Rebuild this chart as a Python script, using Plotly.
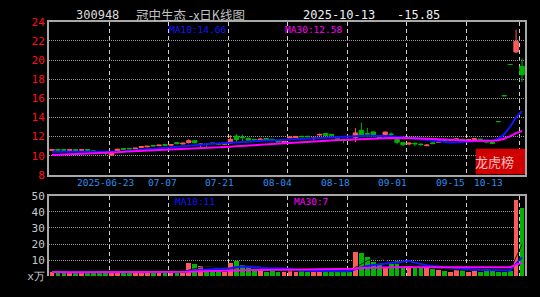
import plotly.graph_objects as go
import pandas as pd

W, H = 540, 297

# ---------------- data ----------------
opens = [10.55, 10.64, 10.62, 10.55, 10.62, 10.56, 10.62, 10.50, 10.42, 10.36,
         10.05, 10.45, 10.75, 10.76, 10.72, 10.86, 10.92, 11.06, 11.04, 11.14,
         11.10, 11.36, 11.22, 11.38, 11.56, 11.18, 11.20, 11.32, 11.24, 11.20,
         11.32, 12.05, 11.92, 11.82, 11.70, 11.62, 11.80, 11.72, 11.50, 11.40,
         11.86, 11.90, 12.02, 12.02, 11.78, 12.16, 12.32, 12.22, 11.76, 11.70,
         11.70, 11.90, 12.65, 12.30, 12.48, 11.88, 12.22, 12.26, 11.70, 11.36,
         11.22, 11.30, 11.20, 11.04, 11.34, 11.40, 11.64, 11.62, 11.68, 11.72,
         11.62, 11.70, 11.74, 11.60, 11.40, 13.56, 16.27, 19.53, 20.84, 19.34]
highs = [10.66, 10.72, 10.65, 10.64, 10.66, 10.65, 10.68, 10.52, 10.45, 10.38,
         10.38, 10.72, 10.80, 10.80, 10.82, 10.98, 11.02, 11.10, 11.14, 11.18,
         11.20, 11.40, 11.36, 11.72, 11.60, 11.28, 11.28, 11.36, 11.30, 11.30,
         12.15, 12.25, 12.20, 11.90, 11.74, 11.86, 11.84, 11.76, 11.54, 11.52,
         11.98, 12.08, 12.06, 12.06, 12.00, 12.30, 12.36, 12.26, 11.80, 11.74,
         11.74, 12.88, 13.45, 12.90, 12.52, 12.00, 12.56, 12.42, 11.74, 11.40,
         11.40, 11.34, 11.30, 11.20, 11.38, 11.68, 11.68, 11.72, 11.78, 11.76,
         11.72, 11.80, 11.78, 11.64, 11.42, 13.56, 16.27, 19.53, 23.17, 20.15]
lows = [10.52, 10.52, 10.55, 10.50, 10.45, 10.53, 10.46, 10.38, 10.30, 10.02,
        9.95, 10.42, 10.62, 10.66, 10.68, 10.84, 10.88, 10.98, 11.00, 11.06,
        11.06, 11.20, 11.18, 11.26, 11.30, 10.85, 10.90, 11.24, 11.10, 11.16,
        11.28, 11.42, 11.50, 11.58, 11.62, 11.55, 11.58, 11.56, 11.40, 11.36,
        11.82, 11.86, 11.94, 11.94, 11.62, 12.08, 12.06, 12.10, 11.64, 11.30,
        11.62, 11.40, 12.00, 11.90, 12.08, 11.78, 11.86, 11.90, 11.18, 11.02,
        11.08, 10.98, 11.02, 11.00, 11.22, 11.36, 11.54, 11.58, 11.64, 11.62,
        11.58, 11.66, 11.62, 11.30, 11.20, 13.56, 16.27, 19.53, 20.74, 17.70]
closes = [10.62, 10.58, 10.58, 10.62, 10.56, 10.62, 10.58, 10.42, 10.38, 10.30,
          10.34, 10.68, 10.68, 10.72, 10.78, 10.94, 10.98, 11.02, 11.10, 11.10,
          11.16, 11.26, 11.30, 11.56, 11.34, 11.20, 11.16, 11.28, 11.20, 11.24,
          11.70, 11.68, 11.88, 11.62, 11.66, 11.72, 11.62, 11.62, 11.44, 11.48,
          11.94, 11.98, 11.98, 11.98, 11.84, 12.22, 12.10, 12.14, 11.68, 11.62,
          11.66, 12.38, 12.15, 12.26, 12.12, 11.82, 12.46, 12.22, 11.40, 11.14,
          11.30, 11.24, 11.16, 11.10, 11.26, 11.64, 11.58, 11.68, 11.74, 11.66,
          11.68, 11.76, 11.66, 11.42, 11.30, 13.56, 16.27, 19.53, 21.94, 18.46]
volumes = [2.6, 2.2, 2.2, 2.6, 2.2, 2.4, 2.2, 2.0, 2.2, 2.4,
           2.6, 2.4, 2.2, 3.6, 2.2, 2.4, 3.0, 2.2, 2.6, 2.2,
           2.8, 2.4, 3.0, 8.5, 7.5, 6.3, 4.5, 3.5, 3.1, 2.6,
           8.1, 9.5, 6.9, 5.5, 3.5, 3.5, 3.0, 3.5, 2.9, 2.9,
           4.0, 2.9, 3.5, 2.9, 2.9, 3.5, 2.9, 2.9, 2.9, 3.5,
           2.9, 15.0, 14.6, 12.3, 8.9, 7.1, 6.1, 7.5, 9.7, 6.1,
           6.5, 5.1, 5.3, 5.0, 4.4, 3.7, 3.3, 2.9, 4.0, 4.0,
           2.9, 4.6, 2.9, 4.6, 3.3, 2.9, 2.5, 3.3, 47.3, 42.6]
ma10 = [10.42, 10.42, 10.43, 10.43, 10.42, 10.42, 10.41, 10.40, 10.40, 10.38,
        10.38, 10.40, 10.44, 10.50, 10.56, 10.62, 10.68, 10.74, 10.80, 10.86,
        10.92, 10.97, 11.02, 11.07, 11.12, 11.16, 11.20, 11.24, 11.28, 11.32,
        11.38, 11.44, 11.48, 11.52, 11.55, 11.57, 11.58, 11.59, 11.60, 11.62,
        11.68, 11.72, 11.76, 11.79, 11.82, 11.86, 11.90, 11.96, 11.98, 11.98,
        12.00, 12.04, 12.07, 12.08, 12.08, 12.08, 12.06, 12.04, 11.98, 11.92,
        11.86, 11.78, 11.72, 11.66, 11.60, 11.50, 11.44, 11.38, 11.40, 11.45,
        11.50, 11.53, 11.55, 11.55, 11.55, 11.78, 12.22, 13.02, 14.02, 14.66]
ma30 = [10.08, 10.10, 10.12, 10.14, 10.16, 10.18, 10.20, 10.22, 10.25, 10.30,
        10.33, 10.36, 10.40, 10.42, 10.45, 10.48, 10.52, 10.56, 10.58, 10.62,
        10.65, 10.65, 10.65, 10.66, 10.70, 10.74, 10.78, 10.82, 10.86, 10.90,
        10.94, 10.98, 11.00, 11.04, 11.10, 11.14, 11.18, 11.22, 11.26, 11.30,
        11.33, 11.36, 11.40, 11.44, 11.48, 11.52, 11.58, 11.64, 11.66, 11.66,
        11.66, 11.70, 11.75, 11.78, 11.80, 11.82, 11.83, 11.84, 11.85, 11.85,
        11.84, 11.82, 11.80, 11.78, 11.74, 11.70, 11.66, 11.64, 11.62, 11.60,
        11.56, 11.55, 11.55, 11.55, 11.55, 11.62, 11.77, 12.03, 12.36, 12.58]

date_labels = ["2025-06-23", "07-07", "07-21", "08-04", "08-18", "09-01", "09-15", "10-13"]
grid_idx = [9.6, 19.6, 29.6, 39.6, 49.6, 59.6, 69.6, 78.6]
price_ticks = [8, 10, 12, 14, 16, 18, 20, 22, 24]
vol_ticks = [0, 10, 20, 30, 40, 50]
vol_tick_text = ["x万", "10", "20", "30", "40", "50"]

code = "300948"
title_name = "冠中生态 -x日K线图"
title_date = "2025-10-13"
title_chg = "-15.85"
price_ma_labels = ["MA10:14.66", "MA30:12.58"]
vol_ma_labels = ["MA10:11", "MA30:7"]
badge = "龙虎榜"

# ---------------- styling ----------------
RED = "#ff5a5a"
GREEN = "#00b400"
BLUE = "#1414ff"
MAGENTA = "#ff00ff"
FRAME = "#a8a8a8"
MONO = "DejaVu Sans Mono"

def px(x):
    return x / W

def py(y):
    return 1 - y / H

n = len(closes)
xs = list(range(n))
up = [c > o for o, c in zip(opens, closes)]

fig = go.Figure()

# candles, split by colour (flat one-price days are drawn green)
for flag, col in [(True, RED), (False, GREEN)]:
    idx = [i for i in xs if up[i] == flag]
    fig.add_trace(go.Candlestick(
        x=idx,
        open=[opens[i] for i in idx], high=[highs[i] for i in idx],
        low=[lows[i] for i in idx], close=[closes[i] for i in idx],
        increasing=dict(line=dict(color=col, width=1), fillcolor=col),
        decreasing=dict(line=dict(color=col, width=1), fillcolor=col),
        whiskerwidth=0, xaxis="x", yaxis="y", showlegend=False, hoverinfo="skip"))

fig.add_trace(go.Scatter(x=xs, y=ma10, mode="lines", line=dict(color=BLUE, width=2),
                         xaxis="x", yaxis="y", showlegend=False, hoverinfo="skip"))
fig.add_trace(go.Scatter(x=xs, y=ma30, mode="lines", line=dict(color=MAGENTA, width=2),
                         xaxis="x", yaxis="y", showlegend=False, hoverinfo="skip"))

# volume
vol = pd.Series(volumes)
fig.add_trace(go.Bar(x=xs, y=volumes, width=0.8,
                     marker=dict(color=[RED if u else GREEN for u in up], line=dict(width=0)),
                     xaxis="x2", yaxis="y2", showlegend=False, hoverinfo="skip"))
fig.add_trace(go.Scatter(x=xs, y=vol.rolling(5, min_periods=1).mean(), mode="lines",
                         line=dict(color="#1a1a1a", width=1),
                         xaxis="x2", yaxis="y2", showlegend=False, hoverinfo="skip"))
fig.add_trace(go.Scatter(x=xs, y=vol.rolling(10, min_periods=1).mean(), mode="lines",
                         line=dict(color=BLUE, width=2),
                         xaxis="x2", yaxis="y2", showlegend=False, hoverinfo="skip"))
fig.add_trace(go.Scatter(x=xs, y=vol.rolling(30, min_periods=1).mean(), mode="lines",
                         line=dict(color=MAGENTA, width=2),
                         xaxis="x2", yaxis="y2", showlegend=False, hoverinfo="skip"))

xdom = [px(49), px(525)]
xr = [-0.5, n - 0.5]
common_x = dict(domain=xdom, range=xr, tickvals=grid_idx, showticklabels=False, ticks="",
                showgrid=True, gridcolor="#d0d0d0", griddash="4px,3px", gridwidth=1,
                zeroline=False, fixedrange=True)

fig.update_layout(
    width=W, height=H,
    margin=dict(l=0, r=0, t=0, b=0),
    paper_bgcolor="black", plot_bgcolor="black",
    bargap=0, boxgap=0.25, boxgroupgap=0,
    xaxis=dict(**common_x, anchor="y", showline=True, mirror=True, linecolor=FRAME,
               linewidth=2, rangeslider=dict(visible=False)),
    yaxis=dict(domain=[py(176.5), py(16.5)], range=[8, 24], tickvals=price_ticks,
               tickfont=dict(color="#ff1010", size=11, family=MONO), ticks="",
               showgrid=True, gridcolor="#9a9a9a", griddash="1px,1px", gridwidth=1,
               showline=True, mirror=True, linecolor=FRAME, linewidth=2,
               zeroline=False, fixedrange=True),
    xaxis2=dict(**common_x, anchor="y2", side="top", showline=True, linecolor=FRAME,
                linewidth=2),
    yaxis2=dict(domain=[py(282.5), py(198.5)], range=[0, 50], tickvals=vol_ticks,
                ticktext=vol_tick_text, tickfont=dict(color="#c8c8c8", size=11, family=MONO),
                ticks="", showgrid=True, gridcolor="#9a9a9a", griddash="1px,1px",
                showline=True, mirror=True, linecolor=FRAME, linewidth=2,
                zeroline=False, fixedrange=True),
)

ann = []
def text(t, x, y, color, size, family=MONO, xanchor="center"):
    ann.append(dict(text=t, x=px(x), y=py(y), xref="paper", yref="paper", showarrow=False,
                    xanchor=xanchor, yanchor="middle",
                    font=dict(color=color, size=size, family=family)))

text(code, 97, 9, "#dcdcdc", 12)
text(title_name, 190, 9, "#c0c0c0", 12.5, family="Noto Sans CJK SC")
text(title_date, 338.5, 9, "#f0f0f0", 12)
text(title_chg, 418.5, 9, "#f0f0f0", 12)
text(price_ma_labels[0], 167, 24.5, BLUE, 9.5, xanchor="left")
text(price_ma_labels[1], 283, 24.5, MAGENTA, 9.5, xanchor="left")
text(vol_ma_labels[0], 172.5, 204.5, BLUE, 9.5, xanchor="left")
text(vol_ma_labels[1], 291.5, 204.5, MAGENTA, 9.5, xanchor="left")
date_px = [105, 162, 219.5, 277.5, 335, 392, 450, 488]
for lab, xp in zip(date_labels, date_px):
    text(lab, xp, 184.5, "#2a8fef", 9.5)
text(badge, 494.5, 163, "#f6c0c0", 13, family="Noto Sans CJK SC")

fig.update_layout(annotations=ann)
fig.add_shape(type="rect", xref="paper", yref="paper", x0=px(475.7), x1=px(525),
              y0=py(176), y1=py(149.3), fillcolor="#d00000", line=dict(width=0), layer="above")

fig.write_html("out.html", config=dict(displayModeBar=False))
